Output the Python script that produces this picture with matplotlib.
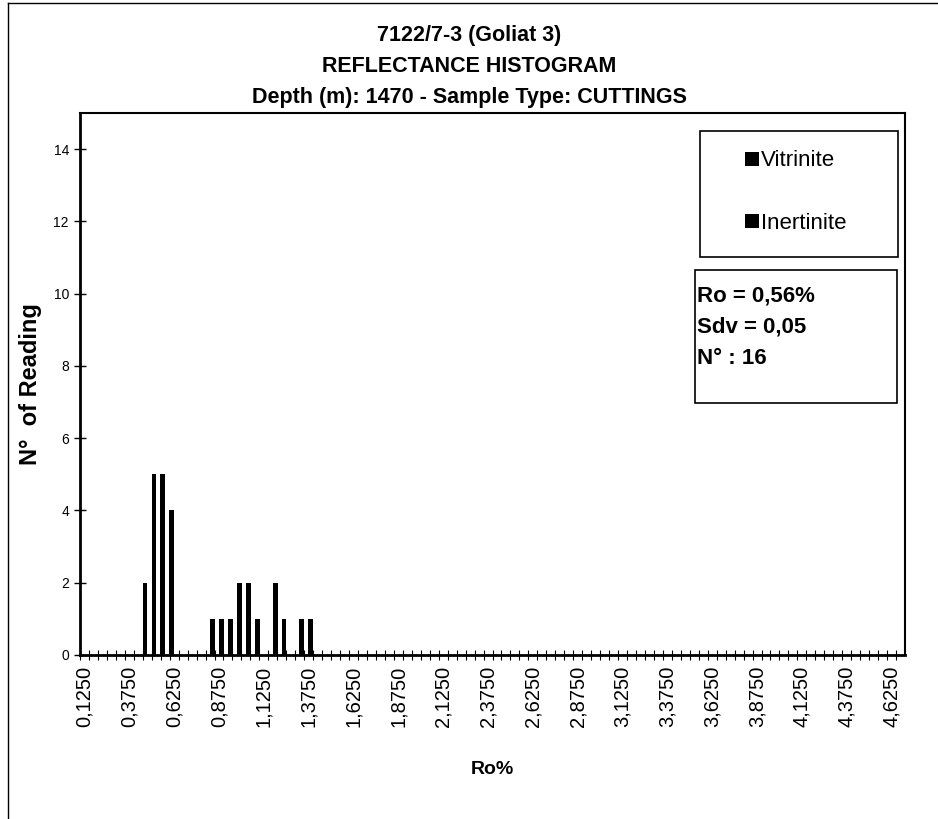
"""
Vitrinite reflectance histogram for well 7122/7-3 (Goliat 3), 1470 m cuttings.
Excel-style clustered column chart on a 0.05 %Ro category axis.
"""

import matplotlib
matplotlib.use("Agg")
import matplotlib.pyplot as plt
import matplotlib.patches as mpatches
import matplotlib.lines as mlines
import numpy as np

# ── Data ──────────────────────────────────────────────────────────────────────
# Category axis: one bin per 0.05 %Ro, starting at 0.125
BIN_START = 0.125
BIN_STEP = 0.05
N_BINS = 92

# Vitrinite readings per bin (Ro %, count)
vit_ro = [0.475, 0.525, 0.575, 0.625]
vit_count = [2, 5, 5, 4]

# Inertinite readings per bin (Ro %, count)
inert_ro = [0.825, 0.875, 0.925, 0.975, 1.025, 1.075, 1.175, 1.225, 1.325, 1.375]
inert_count = [1, 1, 1, 2, 2, 1, 2, 1, 1, 1]

tick_labels = ["0,1250", "0,3750", "0,6250", "0,8750", "1,1250", "1,3750",
               "1,6250", "1,8750", "2,1250", "2,3750", "2,6250", "2,8750",
               "3,1250", "3,3750", "3,6250", "3,8750", "4,1250", "4,3750",
               "4,6250"]

stats_lines = ["Ro = 0,56%", "Sdv = 0,05", "N° : 16"]

# ── Style ─────────────────────────────────────────────────────────────────────
W, H, DPI = 938, 819, 100
FONT = ["Liberation Sans", "DejaVu Sans"]
BAR_W = 0.55
plt.rcParams["font.family"] = FONT


def to_bin(ro):
    return np.round((np.asarray(ro) - BIN_START) / BIN_STEP)


def fx(px):
    return px / W


def fy(py):
    return 1 - py / H


fig = plt.figure(figsize=(W / DPI, H / DPI), dpi=DPI)
ax = fig.add_axes([fx(80), fy(655), fx(905) - fx(80), fy(113) - fy(655)])

bars_v = ax.bar(to_bin(vit_ro) - 0.25, vit_count, width=BAR_W,
                color="black", label="Vitrinite")
bars_i = ax.bar(to_bin(inert_ro) + 0.25, inert_count, width=BAR_W,
                color="black", label="Inertinite")

ax.set_xlim(-0.5, N_BINS - 0.5)
ax.set_ylim(0, 15)

# labels every 5th category, ticks on category boundaries
ax.set_xticks(np.arange(len(tick_labels)) * 5)
ax.set_xticklabels(tick_labels, rotation=90, fontsize=14.5)
ax.tick_params(axis="x", which="major", length=0, pad=8)
ax.set_xticks(np.arange(N_BINS) - 0.5, minor=True)
ax.tick_params(axis="x", which="minor", direction="inout", length=7, width=0.8)

ax.set_yticks(np.arange(0, 15, 2))
ax.tick_params(axis="y", direction="inout", length=8, width=1, labelsize=10, pad=4)

for side in ("left", "bottom"):
    ax.spines[side].set_linewidth(2)
for side in ("top", "right"):
    ax.spines[side].set_linewidth(1.5)

ax.set_ylabel("N°  of Reading", fontsize=17, fontweight="bold", labelpad=8)
ax.set_xlabel("Ro%", fontsize=14, fontweight="bold", labelpad=24)

# titles
for y, txt in [(35, "7122/7-3 (Goliat 3)"),
               (67, "REFLECTANCE HISTOGRAM"),
               (98, "Depth (m): 1470 - Sample Type: CUTTINGS")]:
    fig.text(0.5, fy(y), txt, ha="center", va="center", fontsize=15.5,
             fontweight="bold")

# legend box
fig.add_artist(mpatches.Rectangle((fx(700), fy(257)), fx(898) - fx(700),
                                  fy(131) - fy(257), transform=fig.transFigure,
                                  fill=False, lw=1.2, ec="black"))
leg = fig.legend(handles=[bars_v, bars_i], loc="center",
                 bbox_to_anchor=(fx(796), fy(192)), frameon=False,
                 fontsize=16, handlelength=0.6, handleheight=0.6,
                 handletextpad=0.1, labelspacing=1.85)

# statistics box
fig.add_artist(mpatches.Rectangle((fx(695), fy(403)), fx(897) - fx(695),
                                  fy(270) - fy(403), transform=fig.transFigure,
                                  fill=False, lw=1.2, ec="black"))
for k, line in enumerate(stats_lines):
    fig.text(fx(697), fy(296 + 31 * k), line, ha="left", va="center",
             fontsize=16, fontweight="bold")

# outer chart frame
fig.add_artist(mlines.Line2D([fx(8), fx(8)], [0, fy(3)],
                             transform=fig.transFigure, color="black", lw=1))
fig.add_artist(mlines.Line2D([fx(8), 1], [fy(3), fy(3)],
                             transform=fig.transFigure, color="black", lw=1))

fig.savefig("out.png", dpi=DPI)
